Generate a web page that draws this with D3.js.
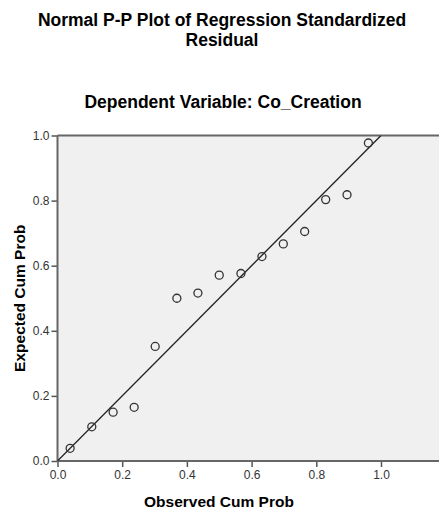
<!DOCTYPE html>
<html>
<head>
<meta charset="utf-8">
<script src="https://cdn.jsdelivr.net/npm/d3@7"></script>
<style>
  html, body { margin: 0; padding: 0; background: #fff; overflow: hidden; }
  svg { display: block; font-family: "Liberation Sans", Arial, sans-serif; }
</style>
</head>
<body>
<svg id="chart" width="439" height="510"></svg>
<script>
// observed cumulative probability (x) and expected cumulative probability (y)
const observed = [0.039, 0.106, 0.172, 0.237, 0.302, 0.369, 0.434, 0.500, 0.567, 0.632, 0.698, 0.764, 0.829, 0.895, 0.961];
const expected = [0.039, 0.105, 0.150, 0.165, 0.352, 0.500, 0.516, 0.571, 0.576, 0.628, 0.667, 0.705, 0.803, 0.818, 0.977];
const xTicks = [0, 0.2, 0.4, 0.6, 0.8, 1.0];
const yTicks = [0, 0.2, 0.4, 0.6, 0.8, 1.0];
const titleLines = ["Normal P-P Plot of Regression Standardized", "Residual"];
const subTitle = "Dependent Variable: Co_Creation";
const xLabel = "Observed Cum Prob";
const yLabel = "Expected Cum Prob";

(() => {
  const svg = d3.select("#chart");

  const plotLeft = 57.5, plotTop = 135.5, plotBottom = 461;
  const x = d3.scaleLinear().domain([0, 1.2]).range([plotLeft, plotLeft + 323.5 * 1.2]);
  const y = d3.scaleLinear().domain([0, 1]).range([plotBottom, plotTop]);

  // titles
  svg.selectAll("text.title").data(titleLines).enter()
    .append("text").attr("class", "title")
    .attr("x", 222).attr("y", (d, i) => 25.5 + i * 20)
    .attr("text-anchor", "middle")
    .attr("font-size", 17.5).attr("font-weight", "bold").attr("fill", "#000")
    .text(d => d);

  svg.append("text")
    .attr("x", 223).attr("y", 107.5)
    .attr("text-anchor", "middle")
    .attr("font-size", 17.5).attr("font-weight", "bold").attr("fill", "#000")
    .text(subTitle);

  // plot background
  svg.append("rect")
    .attr("x", x(0)).attr("y", y(1))
    .attr("width", x(1.2) - x(0)).attr("height", y(0) - y(1))
    .attr("fill", "#f0f0f0");

  svg.append("clipPath").attr("id", "clip")
    .append("rect")
    .attr("x", x(0)).attr("y", y(1))
    .attr("width", x(1.2) - x(0)).attr("height", y(0) - y(1));

  // axes
  const xAxis = d3.axisBottom(x).tickValues(xTicks).tickFormat(d3.format(".1f")).tickSize(6).tickPadding(3);
  const yAxis = d3.axisLeft(y).tickValues(yTicks).tickFormat(d3.format(".1f")).tickSize(6).tickPadding(2);

  const gx = svg.append("g").attr("transform", `translate(0,${plotBottom})`).call(xAxis);
  const gy = svg.append("g").attr("transform", `translate(${plotLeft},0)`).call(yAxis);

  [gx, gy].forEach(g => {
    g.select(".domain").remove();
    g.selectAll(".tick line").attr("stroke", "#555").attr("stroke-width", 1.5);
    g.selectAll(".tick text").attr("fill", "#333").attr("font-size", 12)
      .attr("font-family", "\"Liberation Sans\", Arial, sans-serif");
  });

  // frame lines (left, top, bottom)
  const frame = svg.append("g").attr("stroke", "#666").attr("stroke-width", 2);
  frame.append("line").attr("x1", x(0)).attr("x2", x(1.2)).attr("y1", y(1)).attr("y2", y(1));
  frame.append("line").attr("x1", x(0)).attr("x2", x(1.2)).attr("y1", y(0)).attr("y2", y(0));
  frame.append("line").attr("x1", x(0)).attr("x2", x(0)).attr("y1", y(1)).attr("y2", y(0));

  // reference line
  svg.append("line")
    .attr("clip-path", "url(#clip)")
    .attr("x1", x(0)).attr("y1", y(0)).attr("x2", x(1)).attr("y2", y(1))
    .attr("stroke", "#222").attr("stroke-width", 1.3);

  // points
  svg.append("g").selectAll("circle")
    .data(observed.map((o, i) => ({ o, e: expected[i] })))
    .enter().append("circle")
    .attr("cx", d => x(d.o)).attr("cy", d => y(d.e)).attr("r", 4)
    .attr("fill", "none").attr("stroke", "#333").attr("stroke-width", 1.3);

  // axis titles
  svg.append("text")
    .attr("x", 219).attr("y", 507)
    .attr("text-anchor", "middle")
    .attr("font-size", 15.5).attr("font-weight", "bold").attr("fill", "#000")
    .text(xLabel);

  svg.append("text")
    .attr("transform", `translate(25,${(y(0) + y(1)) / 2}) rotate(-90)`)
    .attr("text-anchor", "middle")
    .attr("font-size", 15.5).attr("font-weight", "bold").attr("fill", "#000")
    .text(yLabel);
})();
</script>
</body>
</html>
